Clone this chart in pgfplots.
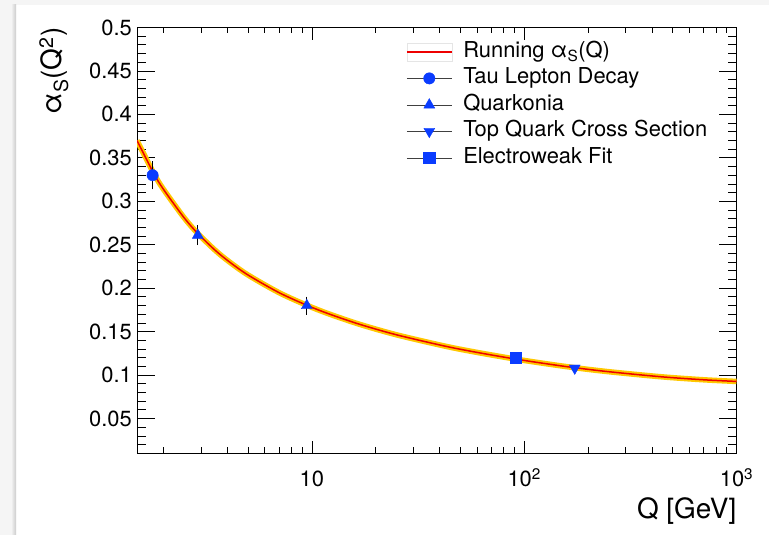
\documentclass[border=0pt]{standalone}
\usepackage{pgfplots}
\usepackage{pgfplotstable}
\pgfplotsset{compat=1.18}
\usepackage{fontspec}
\setmainfont{TeX Gyre Heros}

\definecolor{rootblue}{RGB}{10,60,255}
\definecolor{bandyellow}{RGB}{255,200,0}
\definecolor{rootred}{RGB}{238,0,0}

% running coupling alpha_s(Q)
\pgfplotstableread{
Q      alpha
1.5    0.370
1.8    0.332
2.0    0.3137
2.5    0.2811
2.9    0.2630
3.5    0.2437
4.08   0.2304
5      0.2152
7      0.1949
9.5    0.1802
12     0.1705
16.8   0.1584
25     0.1464
42.4   0.1333
60     0.1261
91.19  0.1184
130    0.1127
173    0.1085
250    0.1039
440    0.0981
700    0.0946
1000   0.0927
}\runningtable

\pgfplotsset{
  ptlegend/.style={legend image code/.code={
      \draw[black!75, line width=0.8bp, solid] (0bp,0bp) -- (45bp,0bp);
      \draw[only marks] plot coordinates {(22.5bp,0bp)};
      \path (55.7bp,0bp);}},
  pterr/.style={error bars/.cd, y dir=both, y explicit,
      error bar style={black, line width=0.7bp},
      error mark options={black, mark size=2bp, line width=0.7bp}},
}

\begin{document}
\begin{tikzpicture}
\useasboundingbox (0bp,0bp) rectangle (769bp,535bp);
\fill[white] (0bp,0bp) rectangle (769bp,535bp);
\fill[gray!8] (0bp,0bp) rectangle (16bp,535bp);
\fill[gray!8] (0bp,530bp) rectangle (769bp,535bp);
\shade[left color=gray!8, right color=gray!40] (11bp,0bp) rectangle (16bp,530bp);

\begin{axis}[
  at={(137bp,81.7bp)}, anchor=south west,
  scale only axis, width=599.5bp, height=425.8bp,
  xmode=log, xmin=1.5, xmax=1000, ymin=0.01, ymax=0.5,
  clip mode=individual,
  axis line style={black, line width=0.8bp},
  tick style={draw=none},
  ticklabel style={font=\fontsize{22}{26}\selectfont},
  xtick={10,100,1000},
  xticklabels={10,10\textsuperscript{2},10\textsuperscript{3}},
  xticklabel style={anchor=base, yshift=-33.5bp},
  ytick={0.05,0.1,0.15,0.2,0.25,0.3,0.35,0.4,0.45,0.5},
  yticklabels={0.05,0.1,0.15,0.2,0.25,0.3,0.35,0.4,0.45,0.5},
  yticklabel style={anchor=east, inner sep=0pt, xshift=-5bp},
  xlabel={Q [GeV]},
  xlabel style={at={(axis description cs:1,-0.152)}, anchor=base east, inner sep=0pt, font=\fontsize{28}{32}\selectfont},
  ylabel={α\textsubscript{S}(Q\textsuperscript{2})},
  ylabel style={at={(axis description cs:-0.1251,1)}, anchor=base east, inner sep=0pt, font=\fontsize{28}{32}\selectfont},
  legend style={at={(axis description cs:0.4487,0.9678)}, anchor=north west,
    draw=none, fill=none, inner sep=0pt, row sep=5.5bp,
    font=\fontsize{22}{26}\selectfont,
    nodes={inner sep=0pt, text height=16bp, text depth=5bp}},
  legend cell align=left,
]
% tick marks, pointing into the frame on all four sides
\pgfplotsinvokeforeach{2,3,4,5,6,7,8,9,20,30,40,50,60,70,80,90,200,300,400,500,600,700,800,900}{
  \draw[black, line width=0.8bp] (axis cs:#1,0.01) -- ++(0bp,5.8bp);
  \draw[black, line width=0.8bp] (axis cs:#1,0.5) -- ++(0bp,-5.8bp);}
\pgfplotsinvokeforeach{10,100}{
  \draw[black, line width=0.8bp] (axis cs:#1,0.01) -- ++(0bp,12.7bp);
  \draw[black, line width=0.8bp] (axis cs:#1,0.5) -- ++(0bp,-12.7bp);}
\pgfplotsinvokeforeach{0.05,0.1,0.15,0.2,0.25,0.3,0.35,0.4,0.45}{
  \draw[black, line width=0.8bp] (axis cs:1.5,#1) -- ++(17.7bp,0bp);
  \draw[black, line width=0.8bp] (axis cs:1000,#1) -- ++(-17.7bp,0bp);}
\pgfplotsinvokeforeach{0.02,0.03,0.04,0.06,0.07,0.08,0.09,0.11,0.12,0.13,0.14,0.16,0.17,0.18,0.19,0.21,0.22,0.23,0.24,0.26,0.27,0.28,0.29,0.31,0.32,0.33,0.34,0.36,0.37,0.38,0.39,0.41,0.42,0.43,0.44,0.46,0.47,0.48,0.49}{
  \draw[black, line width=0.8bp] (axis cs:1.5,#1) -- ++(9bp,0bp);
  \draw[black, line width=0.8bp] (axis cs:1000,#1) -- ++(-9bp,0bp);}

% uncertainty band and central value
\addplot[bandyellow, line width=5.5bp, smooth, forget plot] table[x=Q, y=alpha] {\runningtable};
\addplot[rootred, line width=1.5bp, smooth,
  legend image code/.code={
    \draw[gray!20, line width=0.5bp] (0bp,-9bp) rectangle (45bp,9bp);
    \draw[rootred, line width=1.2bp] (0bp,0bp) -- (45bp,0bp);
    \path (55.7bp,0bp);}]
  table[x=Q, y=alpha] {\runningtable};
\addlegendentry{Running α\textsubscript{S}(Q)}

% measurements
\addplot[only marks, mark=*, mark size=5.7bp, color=rootblue, ptlegend, pterr]
  coordinates {(1.777,0.330) +- (0,0.014)};
\addlegendentry{Tau Lepton Decay}

\addplot[only marks, mark=triangle*, mark size=6.3bp, color=rootblue, ptlegend, pterr]
  coordinates {(2.9,0.261) +- (0,0.009) (9.46,0.180) +- (0,0.008)};
\addlegendentry{Quarkonia}

\addplot[only marks, mark=triangle*, mark size=6.3bp, mark options={rotate=180}, color=rootblue, ptlegend]
  coordinates {(173,0.108)};
\addlegendentry{Top Quark Cross Section}

\addplot[only marks, mark=square*, mark size=5.7bp, color=rootblue, ptlegend]
  coordinates {(91.19,0.1197)};
\addlegendentry{Electroweak Fit}
\end{axis}
\end{tikzpicture}
\end{document}
